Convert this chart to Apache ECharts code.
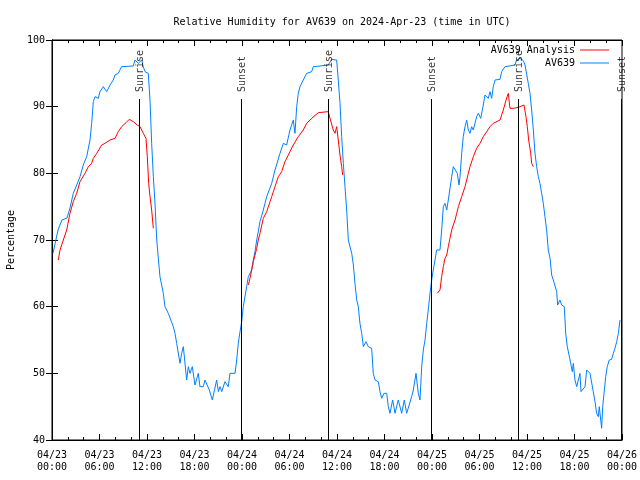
<!DOCTYPE html>
<html>
<head>
<meta charset="utf-8">
<script src="https://cdn.jsdelivr.net/npm/echarts@6/dist/echarts.min.js"></script>
<style>html,body{margin:0;padding:0;background:#fff}#c{width:640px;height:480px}</style>
</head>
<body>
<div id="c"></div>
<script>
// Hours since 2024-04-23 00:00 UTC
const xTickLabels = ['04/23\n00:00','04/23\n06:00','04/23\n12:00','04/23\n18:00','04/24\n00:00','04/24\n06:00','04/24\n12:00','04/24\n18:00','04/25\n00:00','04/25\n06:00','04/25\n12:00','04/25\n18:00','04/26\n00:00'];

const blueHours = [
0.13,0.76,1.26,1.89,2.27,2.69,3.12,3.54,3.95,4.38,4.80,5.01,5.22,5.43,5.85,6.06,6.48,6.91,7.33,7.74,7.96,8.37,8.80,10.27,10.48,10.90,11.33,11.53,11.75,12.16,12.38,12.59,12.80,13.01,13.23,13.43,13.64,14.06,14.27,14.69,14.91,15.32,15.54,15.75,16.17,16.38,16.59,17.01,17.22,17.43,17.72,18.06,18.48,18.69,19.11,19.33,19.54,19.87,20.25,20.80,21.01,21.22,21.44,21.85,22.27,22.48,23.12,23.33,23.53,23.75,23.96,
24.16,24.59,24.80,25.22,25.43,25.64,25.86,26.27,26.69,27.12,27.75,28.17,28.80,29.22,29.64,30.06,30.48,30.69,30.91,31.11,31.33,31.74,32.17,32.80,33.01,33.85,34.90,35.33,35.96,36.16,36.38,36.59,36.80,37.01,37.22,37.43,37.86,38.07,38.27,38.49,38.69,38.90,39.12,39.33,39.66,39.95,40.38,40.58,40.80,41.22,41.43,41.65,41.94,42.28,42.48,42.69,43.03,43.33,43.74,44.17,44.50,44.80,45.01,45.43,45.64,45.98,46.27,46.48,46.70,46.90,47.12,47.33,47.53,47.75,47.96,
48.16,48.38,48.59,49.01,49.22,49.43,49.64,49.86,50.06,50.49,50.69,50.91,51.20,51.41,51.54,51.75,51.95,52.17,52.38,52.59,52.80,53.01,53.22,53.64,53.85,54.15,54.48,54.69,54.91,55.11,55.33,55.54,55.74,55.96,56.59,56.80,57.22,58.48,58.69,59.12,59.53,59.75,59.96,60.16,60.38,60.59,60.80,61.01,61.22,61.43,61.64,61.85,62.06,62.27,62.48,62.69,62.91,63.12,63.32,63.54,63.75,63.87,64.16,64.38,64.71,64.89,65.09,65.31,65.52,65.72,65.85,66.06,66.28,66.48,66.69,66.82,67.07,67.33,67.54,67.75,67.96,68.17,68.37,68.59,68.80,69.01,69.13,69.31,69.43,69.56,69.73,69.94,70.14,70.39,70.69,70.90,71.11,71.33,71.54,71.75];
const blueValues = [
68,71.5,73,73.3,74.8,77,78.25,79.5,81.25,82.5,85,87.5,90.75,91.5,91.25,92.25,93,92.25,93.25,94,94.75,95,96,96.1,97,96.5,97,96,95.25,95,91,84.5,79.5,75.5,70,67.25,64.5,62,60,59,58.75,57,56,54.5,51.5,53,54,49,51,50,51,48.25,50,48,48,49,49,47.5,46,49,47.25,48,47.25,48.75,48,50,50,52,54.5,56.25,57.75,
60,63,64.5,65.5,67,68.25,70,72.75,74.5,76.5,78.5,80.5,83,84.5,84.25,86.5,88,86,90,92,93,94,95,95.25,96,96.1,96.25,97.1,97,94,90.5,85.5,81.5,78,74.5,70,68,66.25,63.5,61,60,57.5,56,54,54.75,54,53.75,50,49,48.75,47.25,46.25,47,47,45,44,46,44,46,44,46,44,44,46.5,47.5,50,47,46,51,53.5,55,57.5,59.5,62,64,
65.5,67,68.5,68.5,71.5,75,75.5,74.5,76,79.5,81,81.25,80,78.25,79.5,83,85.5,87,88,86.5,86,87,86.5,88.5,89,88.25,90.25,91.75,92,91.25,92.25,91.25,93,94,94.1,95.25,96,96.25,97,97.25,96.9,96.25,96,93.5,92,89.5,86.5,83,81,79.5,78.5,77,75.5,73.5,71.5,68.5,67.25,64.75,64,63.75,62.25,60.25,61,60.25,60,56,54,52.75,51.5,50.25,51.5,49,48,48,50,47.25,47.5,48,50.5,50.75,50,50,47.25,45.75,44,43.5,45,43,41.75,45,47,49.5,51,52,52.1,53,53.75,54.75,56,58];

const redHours = [
0.80,1.01,1.43,1.86,2.27,2.69,3.12,3.54,4.17,4.59,5.01,5.22,5.65,5.85,6.28,6.69,7.33,7.96,8.37,8.80,9.35,9.76,10.27,10.77,11.12,11.53,11.87,12.04,12.21,12.38,12.59,12.80,
18,
24.80,25.01,25.22,25.43,25.86,26.06,26.27,26.69,27.12,27.54,27.75,28.17,28.59,29.01,29.43,29.85,30.48,31.11,31.74,32.17,32.80,33.64,34.90,35.12,35.53,35.75,35.96,36.16,36.38,36.59,36.72,
42,
48.67,49.01,49.22,49.43,49.64,49.86,50.06,50.27,50.49,50.69,50.91,51.12,51.33,51.75,52.17,52.59,52.80,53.22,53.64,54.06,54.48,54.91,55.33,55.74,56.59,57.01,57.35,57.64,57.85,58.27,58.90,59.33,59.62,59.87,60.04,60.21,60.47,60.59,60.80];
const redValues = [
67,68.5,70,71.5,74,75.75,77,78.75,80,81,81.5,82.25,83,83.25,84.25,84.5,85,85.25,86.25,87,87.6,88.1,87.75,87.25,87,86,85.25,82.5,78.5,76.5,74.5,71.75,
null,
63.25,64.25,65.5,66.75,68.75,70,71,73.25,74.25,75.75,76.5,78,79.5,80.25,81.75,82.75,84.25,85.5,86.5,87.5,88.25,89.1,89.25,88.25,86.5,86,87,85,82.75,81,79.75,
null,
62,62.5,64.5,66,67.25,67.75,69,70.25,71.5,72.25,73,74,75,76.5,78,80,81,82.5,83.75,84.5,85.5,86.25,87,87.5,88,89.5,91,92,89.75,89.75,89.9,90.1,90.25,88.5,87,85,83,81.5,81];

const sunHours = [11.0, 23.87, 34.86, 47.87, 58.86, 71.87];
const sunNames = ['Sunrise','Sunset','Sunrise','Sunset','Sunrise','Sunset'];

const FONT = 'DejaVu Sans Mono';
const blueData = blueHours.map((h,i) => [h, blueValues[i]]);
const redData = redHours.map((h,i) => [h, redValues[i] == null ? '-' : redValues[i]]);
const lineTop = 91.15, labelStart = 92.2;

const chart = echarts.init(document.getElementById('c'), null, {renderer:'canvas'});
const xBase = {
  type:'value', min:0, max:72, interval:6,
  axisLine:{show:true, lineStyle:{color:'#000', width:1}},
  axisTick:{show:true, inside:true, length:6, lineStyle:{color:'#000'}},
  minorTick:{show:true, splitNumber:3, length:3, lineStyle:{color:'#000'}},
  splitLine:{show:false}, minorSplitLine:{show:false}
};
const yBase = {
  type:'value', min:40, max:100, interval:10,
  axisLine:{show:true, lineStyle:{color:'#000', width:1}},
  axisTick:{show:true, inside:true, length:6, lineStyle:{color:'#000'}},
  splitLine:{show:false}
};
chart.setOption({
  animation:false,
  backgroundColor:'#fff',
  title:{text:'Relative Humidity for AV639 on 2024-Apr-23 (time in UTC)', left:337, textAlign:'center', top:12,
    textStyle:{fontFamily:FONT, fontSize:10, fontWeight:'normal', color:'#000'}},
  grid:{left:52, right:18, top:40, bottom:40, containLabel:false, outerBoundsMode:'none',
    show:true, borderColor:'#000', borderWidth:1, backgroundColor:'transparent'},
  legend:{data:['AV639 Analysis','AV639'], orient:'vertical', right:26, top:39, align:'right',
    icon:'rect', itemWidth:29, itemHeight:1, itemGap:1,
    textStyle:{fontFamily:FONT, fontSize:10, color:'#000', lineHeight:12}},
  xAxis:[
    Object.assign({}, xBase, {position:'bottom',
      axisLabel:{show:true, fontFamily:FONT, fontSize:10, color:'#000', lineHeight:12, margin:9,
        formatter: v => xTickLabels[Math.round(v/6)]}}),
    Object.assign({}, xBase, {position:'top', axisLabel:{show:false}})
  ],
  yAxis:[
    Object.assign({}, yBase, {position:'left', name:'Percentage', nameLocation:'middle', nameGap:36, nameRotate:90,
      nameTextStyle:{fontFamily:FONT, fontSize:10, color:'#000'},
      axisLabel:{show:true, fontFamily:FONT, fontSize:10, color:'#000', margin:7}}),
    Object.assign({}, yBase, {position:'right', axisLabel:{show:false}})
  ],
  series:[
    {name:'AV639 Analysis', type:'line', data:redData, showSymbol:false, symbol:'none', connectNulls:false,
      lineStyle:{color:'#ff0000', width:1}, itemStyle:{color:'#ff0000'}, z:3},
    {name:'AV639', type:'line', data:blueData, showSymbol:false, symbol:'none',
      lineStyle:{color:'#0080ff', width:1}, itemStyle:{color:'#0080ff'}, z:2},
    {name:'sun', type:'scatter', symbolSize:0, z:4,
      data: sunHours.map((h,i) => ({value:[h, labelStart], name:sunNames[i]})),
      label:{show:true, formatter:p => p.name, position:[1.5,0], rotate:90, align:'left', verticalAlign:'middle',
        fontFamily:FONT, fontSize:10, color:'#000'},
      markLine:{silent:true, symbol:'none', label:{show:false}, animation:false,
        lineStyle:{color:'#000', width:1, type:'solid'},
        data: sunHours.map(h => [{coord:[h,40]},{coord:[h,lineTop]}])}
    }
  ]
});
</script>
</body>
</html>
